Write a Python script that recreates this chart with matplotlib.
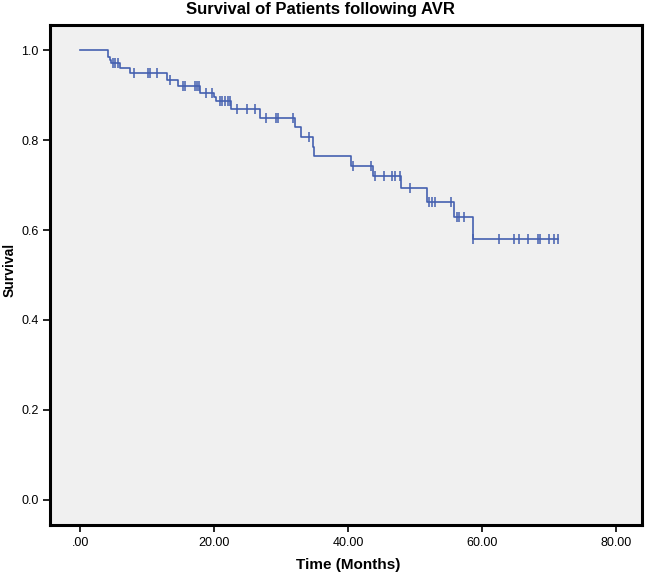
import numpy as np
import matplotlib
matplotlib.use('Agg')
import matplotlib.pyplot as plt

plt.rcParams['font.family'] = ['Liberation Sans', 'DejaVu Sans']

# Kaplan-Meier steps: event time (months) and survival after it
event_times = [4.1, 4.4, 4.6, 5.9, 7.4, 13.0, 14.6, 17.9, 20.0, 20.3, 22.5, 26.9,
               32.1, 33.0, 34.7, 34.9, 40.4, 43.7, 47.9, 51.8, 55.9, 58.6]
survival = [0.985, 0.978, 0.972, 0.961, 0.948, 0.933, 0.920, 0.905, 0.896, 0.887,
            0.869, 0.850, 0.830, 0.807, 0.785, 0.764, 0.743, 0.720, 0.693, 0.663,
            0.628, 0.580]

# censored observations (months)
censor_times = [4.9, 5.2, 5.6, 8.1, 10.1, 10.4, 11.5, 13.4, 15.4, 15.7, 17.1, 17.4,
                17.8, 18.8, 19.7, 20.9, 21.2, 21.7, 22.1, 22.4, 23.4, 24.9, 26.1,
                27.8, 29.3, 29.6, 31.8, 34.2, 40.7, 43.4, 44.1, 45.4, 46.5, 47.0,
                47.8, 49.2, 52.1, 52.5, 53.0, 55.4, 56.3, 56.6, 57.3, 58.7, 62.6,
                64.8, 65.6, 66.9, 68.4, 68.7, 70.0, 70.8, 71.4]

x_ticks = [0, 20, 40, 60, 80]
x_labels = ['.00', '20.00', '40.00', '60.00', '80.00']
y_ticks = [0.0, 0.2, 0.4, 0.6, 0.8, 1.0]

line_col = '#4560b0'

t_step = np.array([0.0] + event_times + [censor_times[-1]])
s_step = np.array([1.0] + survival + [survival[-1]])

# survival level at each censor time
idx = np.searchsorted(t_step, censor_times, side='right') - 1
s_cens = s_step[idx]

fig = plt.figure(figsize=(6.49, 5.75), dpi=100)
ax = fig.add_axes([50/649, 50/575, 592/649, 500/575])
ax.set_facecolor('#f0f0f0')

ax.step(t_step, s_step, where='post', color=line_col, lw=1.2)
ax.plot(censor_times, s_cens, ls='none', marker='|', ms=7, mew=1.1, color=line_col)

ax.set_xlim(-4.5, 83.9)
ax.set_ylim(-0.0556, 1.0556)
ax.set_xticks(x_ticks)
ax.set_xticklabels(x_labels)
ax.set_yticks(y_ticks)
ax.set_yticklabels([f'{v:.1f}' for v in y_ticks])
ax.tick_params(direction='out', length=5, width=1.2, labelsize=9, color='black')
ax.tick_params(axis='x', pad=4)
ax.tick_params(axis='y', pad=3)

for sp in ax.spines.values():
    sp.set_linewidth(2.2)
    sp.set_color('black')

fig.text(0.493, 1 - 14/575, 'Survival of Patients following AVR', ha='center',
         va='baseline', fontsize=12, fontweight='bold')
fig.text(348/649, 6/575, 'Time (Months)', ha='center', va='baseline',
         fontsize=11, fontweight='bold')
fig.text(10/649, 1 - 270/575, 'Survival', ha='center', va='center', rotation=90,
         fontsize=10, fontweight='bold')

fig.savefig('out.png', dpi=100)
